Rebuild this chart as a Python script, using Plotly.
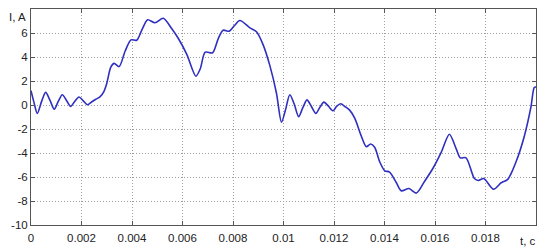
import plotly.graph_objects as go

t_values = [0.00000, 0.00012, 0.00025, 0.00042, 0.00058, 0.00075, 0.00092, 0.00108, 0.00124, 0.00140,
            0.00157, 0.00173, 0.00190, 0.00207, 0.00224, 0.00240, 0.00255, 0.00273, 0.00288, 0.00300,
            0.00316, 0.00329, 0.00349, 0.00373, 0.00396, 0.00419, 0.00440, 0.00462, 0.00491, 0.00524,
            0.00557, 0.00583, 0.00617, 0.00653, 0.00670, 0.00690, 0.00719, 0.00742, 0.00761, 0.00785,
            0.00805, 0.00827, 0.00867, 0.00893, 0.00919, 0.00946, 0.00972, 0.00992, 0.01008, 0.01025,
            0.01042, 0.01060, 0.01077, 0.01093, 0.01110, 0.01128, 0.01144, 0.01160, 0.01178, 0.01196,
            0.01211, 0.01226, 0.01245, 0.01262, 0.01282, 0.01308, 0.01328, 0.01345, 0.01361, 0.01381,
            0.01401, 0.01420, 0.01447, 0.01466, 0.01497, 0.01526, 0.01559, 0.01592, 0.01625, 0.01657,
            0.01684, 0.01700, 0.01723, 0.01756, 0.01772, 0.01793, 0.01832, 0.01862, 0.01888, 0.01921,
            0.01954, 0.01980, 0.01993, 0.02000]
i_values = [1.20, 0.20, -0.70, 0.30, 1.05, 0.40, -0.35, 0.30, 0.86, 0.40,
            -0.13, 0.30, 0.67, 0.35, 0.02, 0.25, 0.46, 0.67, 1.10, 1.80,
            3.15, 3.47, 3.20, 4.50, 5.43, 5.40, 6.30, 7.10, 6.85, 7.23,
            6.37, 5.56, 4.22, 2.40, 3.00, 4.40, 4.35, 5.56, 6.23, 6.15,
            6.60, 7.04, 6.43, 6.10, 5.03, 3.28, 1.00, -1.43, -0.40, 0.86,
            0.10, -0.97, -0.20, 0.43, -0.10, -0.70, -0.20, 0.24, -0.10, -0.48,
            -0.10, 0.10, -0.15, -0.43, -1.10, -2.58, -3.47, -3.25, -3.52, -4.73,
            -5.48, -5.59, -6.48, -7.15, -6.96, -7.34, -6.35, -5.27, -3.93, -2.44,
            -3.65, -4.40, -4.40, -6.13, -6.29, -6.13, -7.02, -6.48, -6.20, -4.73,
            -2.58, -0.16, 1.45, 1.50]

x_tickvals = [0, 0.002, 0.004, 0.006, 0.008, 0.010, 0.012, 0.014, 0.016, 0.018]
x_ticktext = ["0", "0.002", "0.004", "0.006", "0.008", "0.01", "0.012", "0.014", "0.016", "0.018"]
y_tickvals = [-10, -8, -6, -4, -2, 0, 2, 4, 6]
y_ticktext = ["-10", "-8", "-6", "-4", "-2", "0", "2", "4", "6"]

fig = go.Figure()
fig.add_trace(go.Scatter(x=t_values, y=i_values, mode="lines",
                         line=dict(color="#2f2fc0", width=1.6, shape="spline", smoothing=0.8),
                         hoverinfo="skip"))

font = dict(family="Liberation Sans, Arial, sans-serif", size=11.5, color="#222")
axis_common = dict(showline=True, linecolor="#555", linewidth=1, mirror="ticks",
                   ticks="inside", ticklen=4, tickcolor="#555",
                   showgrid=True, gridcolor="#a0a0a0", griddash="1px,2px", gridwidth=1,
                   zeroline=False, tickfont=font)
fig.update_xaxes(range=[0, 0.02], tickvals=x_tickvals, ticktext=x_ticktext,
                 ticklabelstandoff=2, **axis_common)
fig.update_yaxes(range=[-10, 8], tickvals=y_tickvals, ticktext=y_ticktext, **axis_common)

fig.add_annotation(text="I, A", xref="paper", yref="paper", x=-0.005, y=0.965,
                   xanchor="right", yanchor="middle", showarrow=False, font=font)
fig.add_annotation(text="t, c", xref="paper", yref="paper", x=0.985, y=-0.035,
                   xanchor="center", yanchor="top", showarrow=False, font=font)

fig.update_layout(width=540, height=247, margin=dict(l=31, r=3, t=9, b=16),
                  paper_bgcolor="white", plot_bgcolor="white", showlegend=False)
fig.write_html("out.html", config={"displayModeBar": False},
               post_script="document.body.style.margin='0';document.body.style.overflow='hidden';")
